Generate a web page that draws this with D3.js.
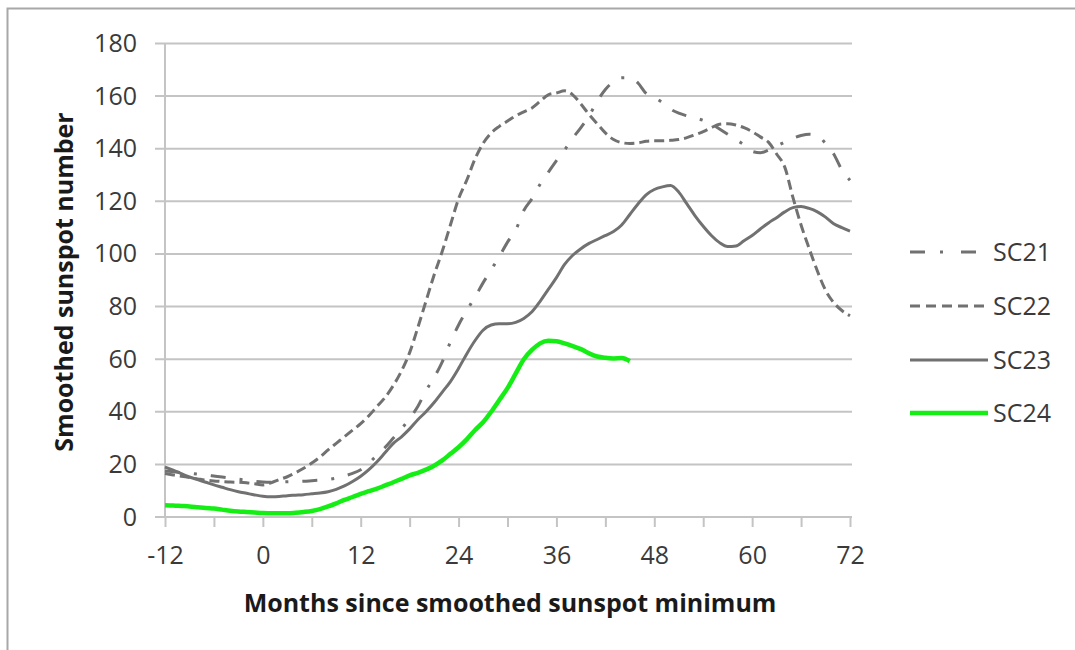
<!DOCTYPE html>
<html>
<head>
<meta charset="utf-8">
<script src="https://cdn.jsdelivr.net/npm/d3@7"></script>
<style>
	body { margin: 0; background: #fff; }
	svg { display: block; font-family: "Open Sans", sans-serif; }
</style>
</head>
<body>
<svg width="1075" height="650"></svg>
<script>
// months since minimum, -12 .. 72
var months = d3.range(-12, 73)

var sc21 = [
	17.5, 17.2, 16.9, 16.6, 16.3, 16.0, 15.6, 15.2, 14.8, 14.4, 14.0, 13.6,
	13.3, 13.2, 13.3, 13.4, 13.5, 13.6, 13.8, 14.0, 14.3, 14.8, 15.6, 16.6,
	18.0, 20.5, 23.5, 26.5, 30.0, 33.5, 37.5, 42.0, 48.0, 53.0, 59.0, 66.5,
	73.0, 78.5, 83.5, 89.0, 94.0, 99.0, 104.5, 109.0, 116.5, 121.0, 126.5, 131.0,
	135.5, 139.5, 144.0, 148.0, 152.5, 158.0, 162.5, 165.5, 167.0, 167.0, 165.0, 161.0,
	159.5, 157.5, 155.0, 153.5, 152.5, 151.7, 150.8, 149.5, 147.5, 145.5, 143.5, 141.5,
	139.0, 138.5, 139.5, 141.0, 142.5, 144.0, 145.0, 145.5, 145.0, 142.0, 138.0, 132.0, 128.0
]
var sc22 = [
	16.5, 16.0, 15.5, 15.0, 14.5, 14.0, 13.7, 13.5, 13.3, 13.2, 13.0, 12.6,
	12.2, 13.0, 14.2, 15.3, 16.8, 18.5, 20.5, 22.8, 25.5, 28.0, 30.5, 33.0,
	35.5, 38.5, 42.0, 45.5, 50.0, 55.5, 62.5, 72.0, 82.0, 92.0, 101.0, 111.0,
	121.0, 128.0, 136.0, 142.0, 146.0, 148.5, 150.5, 152.5, 154.0, 155.5, 158.0, 160.5,
	161.2, 162.0, 160.5, 157.0, 153.0, 149.5, 146.0, 143.5, 142.3, 142.0, 142.2, 142.8,
	143.0, 143.0, 143.2, 143.5, 144.2, 145.3, 146.5, 148.0, 149.3, 149.5, 149.0, 148.0,
	146.5, 144.5, 142.5, 138.0, 133.0, 121.5, 111.0, 102.0, 93.5, 86.2, 81.5, 78.5, 76.5
]
var sc23 = [
	19.0, 17.8, 16.5, 15.2, 14.2, 13.2, 12.2, 11.3, 10.4, 9.6, 9.0, 8.4,
	7.9, 7.7, 7.8, 8.1, 8.3, 8.5, 8.8, 9.1, 9.6, 10.5, 11.8, 13.5,
	15.5, 18.0, 21.0, 24.5, 28.0, 30.5, 33.5, 37.0, 40.0, 43.5, 47.5, 51.5,
	56.5, 62.0, 67.0, 71.0, 73.0, 73.5, 73.5, 74.0, 75.5, 78.0, 82.0, 86.5,
	91.0, 96.0, 99.5, 102.0, 104.0, 105.5, 107.0, 108.5, 111.0, 115.0, 119.0, 122.5,
	124.5, 125.5, 126.0, 123.5, 119.0, 114.5, 110.5, 107.0, 104.3, 102.8, 103.0, 105.0,
	107.0, 109.5, 111.8, 113.8, 116.0, 117.6, 118.0, 117.3, 116.0, 114.0, 111.5, 110.0, 108.7
]
// SC24 only runs to month 45
var sc24 = [
	4.5, 4.4, 4.2, 4.0, 3.7, 3.4, 3.2, 2.8, 2.4, 2.1, 1.9, 1.7,
	1.5, 1.4, 1.4, 1.4, 1.6, 1.9, 2.3, 3.0, 4.0, 5.2, 6.5, 7.6,
	8.8, 9.8, 10.8, 12.0, 13.2, 14.5, 15.8, 16.8, 18.0, 19.5, 21.5, 24.0,
	26.5, 29.5, 33.0, 36.0, 40.0, 44.5, 49.0, 54.5, 60.0, 63.5, 66.0, 67.0,
	66.8, 66.0, 65.0, 63.8, 62.2, 61.0, 60.5, 60.3, 60.4, 59.2
]

var seriesNames = ["SC21", "SC22", "SC23", "SC24"]
var yTicks = [0, 20, 40, 60, 80, 100, 120, 140, 160, 180]
var xTicks = d3.range(-12, 73, 6)
var xLabels = [-12, 0, 12, 24, 36, 48, 60, 72]

function drawChart() {
	var styles = {
		SC21: { color: "#717171", width: 3, dash: "15,14,3,14", legendDash: "15,15,3,18" },
		SC22: { color: "#717171", width: 3, dash: "10,5", legendDash: "10,6" },
		SC23: { color: "#717171", width: 3, dash: null, legendDash: null },
		SC24: { color: "#15ee15", width: 4.5, dash: null, legendDash: null }
	}

	var svg = d3.select("svg")

	// outer chart frame (runs off the right and bottom of the picture)
	svg.append("rect")
		.attr("x", 7.5).attr("y", 8.5)
		.attr("width", 1200).attr("height", 800)
		.attr("fill", "none")
		.attr("stroke", "#a8a8a8")
		.attr("stroke-width", 2)

	var plotLeft = 165, plotRight = 850, plotTop = 43.5, plotBottom = 517

	var x = d3.scaleLinear().domain([-12, 72]).range([plotLeft, plotRight])
	var y = d3.scaleLinear().domain([0, 180]).range([plotBottom, plotTop])

	// gridlines
	svg.append("g")
		.selectAll("line")
		.data(yTicks)
		.join("line")
		.attr("x1", plotLeft - 10)
		.attr("x2", plotRight + 2)
		.attr("y1", function(d) { return y(d) })
		.attr("y2", function(d) { return y(d) })
		.attr("stroke", "#c4c4c4")
		.attr("stroke-width", 2)

	// y axis line
	svg.append("line")
		.attr("x1", plotLeft).attr("x2", plotLeft)
		.attr("y1", plotTop).attr("y2", plotBottom)
		.attr("stroke", "#c4c4c4")
		.attr("stroke-width", 2)

	var yAxis = svg.append("g")
		.attr("transform", "translate(" + plotLeft + ",0)")
		.call(d3.axisLeft(y).tickValues(yTicks).tickSize(0).tickPadding(28))
	yAxis.select(".domain").remove()
	yAxis.selectAll("text")
		.attr("font-size", 25)
		.attr("font-family", "Open Sans")
		.attr("fill", "#3a3a3a")

	var xAxis = svg.append("g")
		.attr("transform", "translate(0," + plotBottom + ")")
		.call(d3.axisBottom(x).tickValues(xTicks).tickSize(10).tickPadding(19)
			.tickFormat(function(d) { return xLabels.indexOf(d) >= 0 ? String(d) : "" }))
	xAxis.select(".domain").remove()
	xAxis.selectAll(".tick line").attr("stroke", "#c4c4c4").attr("stroke-width", 2)
	xAxis.selectAll("text")
		.attr("font-size", 25)
		.attr("font-family", "Open Sans")
		.attr("fill", "#3a3a3a")

	// series
	var allSeries = [sc21, sc22, sc23, sc24]
	var line = d3.line()
		.x(function(d) { return x(d[0]) })
		.y(function(d) { return y(d[1]) })
		.curve(d3.curveMonotoneX)

	var plot = svg.append("g").attr("class", "series")
	seriesNames.forEach(function(name, i) {
		var vals = allSeries[i]
		var pts = vals.map(function(v, j) { return [months[j], v] })
		var st = styles[name]
		plot.append("path")
			.attr("d", line(pts))
			.attr("fill", "none")
			.attr("stroke", st.color)
			.attr("stroke-width", st.width)
			.attr("stroke-dasharray", st.dash)
			.attr("stroke-linejoin", "round")
	})

	// legend
	var legend = svg.append("g").attr("class", "legend")
	var legendY = [252, 306, 360, 413]
	seriesNames.forEach(function(name, i) {
		var st = styles[name]
		legend.append("line")
			.attr("x1", 910).attr("x2", 988)
			.attr("y1", legendY[i]).attr("y2", legendY[i])
			.attr("stroke", st.color)
			.attr("stroke-width", st.width)
			.attr("stroke-dasharray", st.legendDash)
		legend.append("text")
			.attr("x", 993)
			.attr("y", legendY[i])
			.attr("dy", "0.35em")
			.attr("font-size", 25)
			.attr("fill", "#3a3a3a")
			.text(name)
	})

	// axis titles
	svg.append("text")
		.attr("x", 510).attr("y", 603)
		.attr("dy", "0.35em")
		.attr("text-anchor", "middle")
		.attr("font-size", 25)
		.attr("font-weight", "bold")
		.attr("fill", "#1a1a1a")
		.text("Months since smoothed sunspot minimum")

	svg.append("text")
		.attr("transform", "translate(64,282) rotate(-90)")
		.attr("dy", "0.35em")
		.attr("text-anchor", "middle")
		.attr("font-size", 25)
		.attr("font-weight", "bold")
		.attr("fill", "#1a1a1a")
		.text("Smoothed sunspot number")
}

drawChart()
</script>
</body>
</html>
